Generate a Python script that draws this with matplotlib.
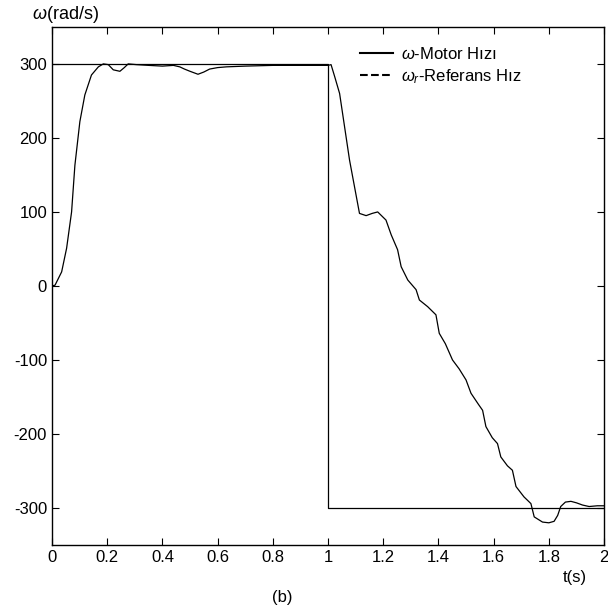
import matplotlib.pyplot as plt
from matplotlib.lines import Line2D

plt.rcParams['font.family'] = ['Liberation Sans', 'DejaVu Sans']
plt.rcParams['mathtext.fontset'] = 'custom'
plt.rcParams['mathtext.it'] = 'Liberation Sans:italic'
plt.rcParams['mathtext.rm'] = 'Liberation Sans'
plt.rcParams['axes.unicode_minus'] = False

# reference speed (step)
ref_t = [0, 1, 1, 2]
ref_w = [300, 300, -300, -300]

# motor speed
motor_t = [0.0, 0.011, 0.035, 0.053, 0.071, 0.083, 0.101, 0.119, 0.143, 0.168, 0.186,
           0.204, 0.222, 0.246, 0.262, 0.276, 0.306, 0.35, 0.40, 0.44, 0.463, 0.48,
           0.50, 0.529, 0.55, 0.571, 0.60, 0.632, 0.70, 0.80, 0.90, 0.95, 1.0,
           1.011, 1.024, 1.042, 1.06, 1.078, 1.096, 1.114, 1.138, 1.16, 1.18, 1.21,
           1.229, 1.252, 1.265, 1.289, 1.319, 1.331, 1.361, 1.391, 1.403, 1.425,
           1.451, 1.475, 1.5, 1.518, 1.545, 1.56, 1.572, 1.595, 1.614, 1.626, 1.65,
           1.668, 1.681, 1.71, 1.735, 1.747, 1.777, 1.80, 1.819, 1.832, 1.843, 1.86,
           1.88, 1.90, 1.922, 1.946, 1.976, 2.0]
motor_w = [0, 1, 19, 51, 100, 163, 222, 258, 285, 296, 300,
           299, 292, 290, 295, 300, 299, 298, 297, 298, 296, 293,
           290, 286, 289, 293, 295, 296, 297, 298, 298, 298, 298,
           299, 283, 260, 215, 170, 134, 98, 95, 98, 100, 89,
           69, 49, 26, 8, -5, -19, -28, -39, -64, -78,
           -100, -112, -127, -145, -160, -168, -190, -205, -213, -231, -243,
           -249, -271, -285, -294, -312, -319, -320, -318, -310, -298, -292,
           -291, -293, -296, -298, -297, -297]

fig = plt.figure(figsize=(6.08, 6.11), dpi=100)
ax = fig.add_axes([0.0855, 0.108, 0.908, 0.848])

ax.plot(ref_t, ref_w, color='black', linewidth=0.9)
ax.plot(motor_t, motor_w, color='black', linewidth=0.9)

ax.set_xlim(0, 2)
ax.set_ylim(-350, 350)
ax.set_xticks([0, 0.2, 0.4, 0.6, 0.8, 1, 1.2, 1.4, 1.6, 1.8, 2])
ax.set_xticklabels(['0', '0.2', '0.4', '0.6', '0.8', '1', '1.2', '1.4', '1.6', '1.8', '2'])
ax.set_yticks([-300, -200, -100, 0, 100, 200, 300])
ax.tick_params(direction='in', top=True, right=True, labelsize=12, length=5, width=0.8)
for s in ax.spines.values():
    s.set_linewidth(1.0)

handles = [Line2D([0], [0], color='black', linewidth=1.5),
           Line2D([0], [0], color='black', linewidth=1.5, linestyle='--')]
ax.legend(handles, [r'$\mathit{\omega}$-Motor Hızı', r'$\mathit{\omega_r}$-Referans Hız'],
          loc='upper left', bbox_to_anchor=(0.536, 0.985), frameon=False, fontsize=12,
          handlelength=2.0, handletextpad=0.5, labelspacing=0.3, borderpad=0.2)

fig.text(0.053, 0.977, r'$\mathit{\omega}$(rad/s)', fontsize=13, ha='left', va='center')
fig.text(0.945, 0.055, 't(s)', fontsize=12, ha='center', va='center')
fig.text(0.465, 0.022, '(b)', fontsize=12, ha='center', va='center')

fig.savefig('out.png', dpi=100)
